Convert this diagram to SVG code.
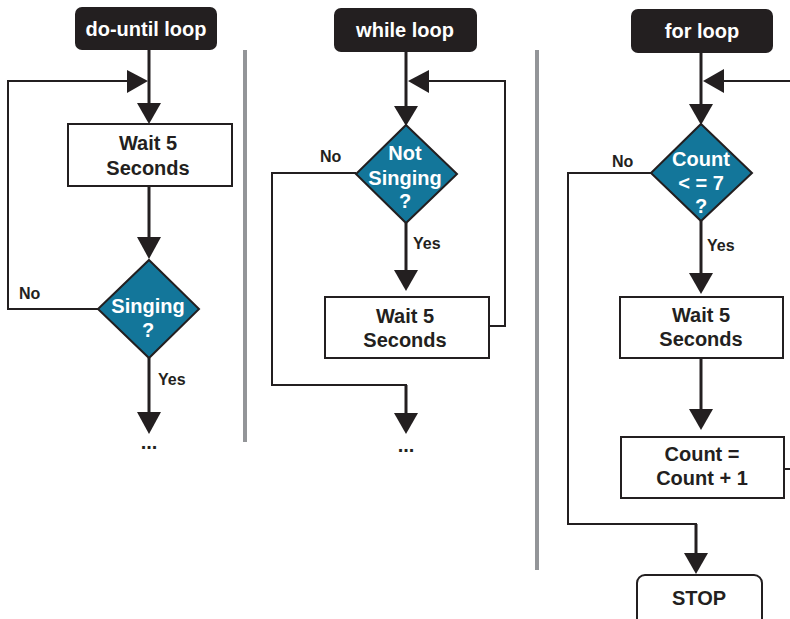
<svg xmlns="http://www.w3.org/2000/svg" width="790" height="619" viewBox="0 0 790 619">
  <style>
    .title { fill: #231f20; }
    .title-text { fill: #ffffff; font-family: "Liberation Sans", Arial, sans-serif; font-weight: bold; font-size: 20px; text-anchor: middle; }
    .box { fill: #ffffff; stroke: #231f20; stroke-width: 2; }
    .diamond { fill: #13769a; stroke: #231f20; stroke-width: 2; }
    .label { fill: #231f20; font-family: "Liberation Sans", Arial, sans-serif; font-weight: bold; font-size: 20px; text-anchor: middle; }
    .dtext { fill: #ffffff; font-family: "Liberation Sans", Arial, sans-serif; font-weight: bold; font-size: 20px; text-anchor: middle; }
    .small { fill: #231f20; font-family: "Liberation Sans", Arial, sans-serif; font-weight: bold; font-size: 16px; }
    .main { fill: none; stroke: #231f20; stroke-width: 3; }
    .back { fill: none; stroke: #231f20; stroke-width: 2; }
    .head { fill: #231f20; }
    .sep { stroke: #939598; stroke-width: 4; }
  </style>

  <!-- column separators -->
  <g id="separators">
    <line class="sep" x1="245" y1="50" x2="245" y2="442"/>
    <line class="sep" x1="537" y1="50" x2="537" y2="570"/>
  </g>

  <!-- connectors -->
  <g id="connectors">
    <!-- do-until -->
    <line class="main" x1="149" y1="50" x2="149" y2="105"/>
    <polygon class="head" points="137,103 161,103 149,124"/>
    <polyline class="back" points="98,309 8,309 8,81 130,81"/>
    <polygon class="head" points="127,70 127,93 148,81"/>
    <line class="main" x1="149" y1="186" x2="149" y2="240"/>
    <polygon class="head" points="137,237 161,237 149,259"/>
    <line class="main" x1="149" y1="358" x2="149" y2="414"/>
    <polygon class="head" points="137,412 161,412 149,434"/>

    <!-- while -->
    <line class="main" x1="406" y1="52" x2="406" y2="108"/>
    <polygon class="head" points="394,106 418,106 406,126"/>
    <polyline class="back" points="489,326 505,326 505,81 426,81"/>
    <polygon class="head" points="429,70 429,93 408,81"/>
    <line class="main" x1="406" y1="223" x2="406" y2="272"/>
    <polygon class="head" points="394,270 418,270 406,291"/>
    <polyline class="back" points="356,173 272,173 272,385 406,385 406,415"/>
    <line class="main" x1="406" y1="385" x2="406" y2="415"/>
    <polygon class="head" points="394,413 418,413 406,434"/>

    <!-- for -->
    <line class="main" x1="701" y1="53" x2="701" y2="106"/>
    <polygon class="head" points="689,104 713,104 701,125"/>
    <line class="back" x1="790" y1="81" x2="722" y2="81"/>
    <polygon class="head" points="724,69 724,93 703,81"/>
    <line class="main" x1="701" y1="221" x2="701" y2="275"/>
    <polygon class="head" points="689,273 713,273 701,294"/>
    <line class="main" x1="701" y1="358" x2="701" y2="411"/>
    <polygon class="head" points="689,409 713,409 701,430"/>
    <line class="back" x1="784" y1="469" x2="792" y2="469"/>
    <polyline class="back" points="651,173 568,173 568,524 696,524 696,555"/>
    <line class="main" x1="696" y1="524" x2="696" y2="555"/>
    <polygon class="head" points="684,553 708,553 696,574"/>
  </g>

  <!-- do-until loop -->
  <g id="title-do-until">
    <rect class="title" x="75" y="7" width="142" height="43" rx="7"/>
    <text class="title-text" x="146" y="36">do-until loop</text>
  </g>
  <g id="wait-1">
    <rect class="box" x="68" y="124" width="164" height="62"/>
    <text class="label" x="148" y="150">Wait 5</text>
    <text class="label" x="148" y="175">Seconds</text>
  </g>
  <g id="decision-singing">
    <polygon class="diamond" points="149,260 199,309 149,358 98,309"/>
    <text class="dtext" x="148" y="313">Singing</text>
    <text class="dtext" x="148" y="337">?</text>
  </g>
  <g id="labels-do-until">
    <text class="small" x="19" y="299">No</text>
    <text class="small" x="158" y="385">Yes</text>
    <text class="label" x="149" y="449">...</text>
  </g>

  <!-- while loop -->
  <g id="title-while">
    <rect class="title" x="334" y="8" width="143" height="44" rx="7"/>
    <text class="title-text" x="405" y="37">while loop</text>
  </g>
  <g id="decision-not-singing">
    <polygon class="diamond" points="406,125 457,174 406,223 356,174"/>
    <text class="dtext" x="405" y="160">Not</text>
    <text class="dtext" x="405" y="185">Singing</text>
    <text class="dtext" x="405" y="208">?</text>
  </g>
  <g id="wait-2">
    <rect class="box" x="325" y="297" width="164" height="61"/>
    <text class="label" x="405" y="323">Wait 5</text>
    <text class="label" x="405" y="347">Seconds</text>
  </g>
  <g id="labels-while">
    <text class="small" x="320" y="162">No</text>
    <text class="small" x="413" y="249">Yes</text>
    <text class="label" x="406" y="452">...</text>
  </g>

  <!-- for loop -->
  <g id="title-for">
    <rect class="title" x="631" y="9" width="142" height="44" rx="7"/>
    <text class="title-text" x="702" y="38">for loop</text>
  </g>
  <g id="decision-count">
    <polygon class="diamond" points="701,124 752,173 701,221 651,173"/>
    <text class="dtext" x="701" y="166">Count</text>
    <text class="dtext" x="701" y="190">&lt; = 7</text>
    <text class="dtext" x="701" y="213">?</text>
  </g>
  <g id="wait-3">
    <rect class="box" x="620" y="297" width="163" height="61"/>
    <text class="label" x="701" y="322">Wait 5</text>
    <text class="label" x="701" y="346">Seconds</text>
  </g>
  <g id="increment">
    <rect class="box" x="621" y="437" width="163" height="61"/>
    <text class="label" x="702" y="461">Count =</text>
    <text class="label" x="702" y="485">Count + 1</text>
  </g>
  <g id="stop">
    <rect class="box" x="637" y="575" width="125" height="52" rx="8"/>
    <text class="label" x="699" y="605">STOP</text>
  </g>
  <g id="labels-for">
    <text class="small" x="612" y="167">No</text>
    <text class="small" x="707" y="251">Yes</text>
  </g>
</svg>
